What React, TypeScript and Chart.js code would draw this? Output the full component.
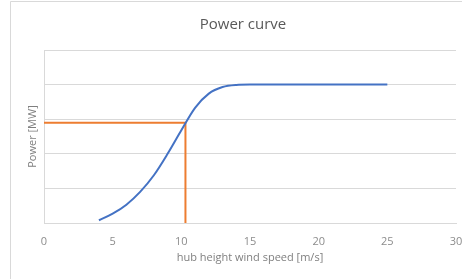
import React, { useEffect, useRef } from "react";
import { Chart, registerables } from "chart.js";

Chart.register(...registerables);

const windSpeeds = [4, 5, 6, 7, 8, 9, 10, 11, 12, 13, 14, 15, 16, 17, 18, 19, 20, 21, 22, 23, 24, 25];
const powerMW = [0.08, 0.27, 0.53, 0.9, 1.38, 2.0, 2.68, 3.33, 3.74, 3.93, 3.99, 4.0, 4.0, 4.0, 4.0, 4.0, 4.0, 4.0, 4.0, 4.0, 4.0, 4.0];
const markerX = [0, 10.3, 10.3];
const markerY = [2.9, 2.9, 0];
const xTicks = [0, 5, 10, 15, 20, 25, 30];
const chartTitle = "Power curve";

const FONT = "'Open Sans', sans-serif";

const framePlugin = {
  id: "frame",
  beforeDraw(chart: any) {
    const ctx = chart.ctx;
    ctx.save();
    ctx.fillStyle = "#ffffff";
    ctx.fillRect(0, 0, chart.width, chart.height);
    ctx.strokeStyle = "#d9d9d9";
    ctx.lineWidth = 1;
    ctx.beginPath();
    ctx.moveTo(10.5, chart.height);
    ctx.lineTo(10.5, 1.5);
    ctx.lineTo(chart.width, 1.5);
    ctx.stroke();
    ctx.fillStyle = "#595959";
    ctx.font = "15px " + FONT;
    ctx.textAlign = "center";
    ctx.textBaseline = "middle";
    ctx.fillText(chartTitle, 243, 25);
    ctx.restore();
  },
};

export default function App() {
  const ref = useRef<HTMLCanvasElement>(null);
  useEffect(() => {
    document.body.style.margin = "0";
    const chart = new Chart(ref.current as HTMLCanvasElement, {
      type: "line",
      data: {
        datasets: [
          {
            label: "Power curve",
            data: windSpeeds.map((x, i) => ({ x, y: powerMW[i] })),
            borderColor: "#4472c4",
            borderWidth: 2,
            pointRadius: 0,
            cubicInterpolationMode: "monotone",
          },
          {
            label: "Operating point",
            data: markerX.map((x, i) => ({ x, y: markerY[i] })),
            borderColor: "#ed7d31",
            borderWidth: 2,
            pointRadius: 0,
            tension: 0,
          },
        ],
      },
      options: {
        animation: false,
        responsive: false,
        layout: { padding: { left: 0, right: 0, top: 50, bottom: 0 } },
        plugins: {
          legend: { display: false },
          tooltip: { enabled: false },
          title: { display: false },
        },
        scales: {
          x: {
            type: "linear",
            min: 0,
            max: 30,
            afterBuildTicks: (s: any) => {
              s.ticks = xTicks.map((v) => ({ value: v }));
            },
            afterFit: (s: any) => {
              s.height = 56;
              s.paddingRight = 6;
              s.paddingLeft = 0;
            },
            grid: { display: false },
            border: { display: true, color: "#d9d9d9" },
            ticks: {
              color: "#8c8c8c",
              font: { family: FONT, size: 11 },
              padding: 4,
              maxRotation: 0,
            },
            title: {
              display: true,
              text: "hub height wind speed [m/s]",
              color: "#7f7f7f",
              font: { family: FONT, size: 11 },
              padding: { top: 0, bottom: 14.4 },
            },
          },
          y: {
            min: 0,
            max: 5,
            ticks: { display: false, stepSize: 1 },
            afterFit: (s: any) => {
              s.width = 44;
              s.paddingTop = 0;
            },
            grid: { color: "#d9d9d9", drawTicks: false },
            border: { display: true, color: "#d9d9d9" },
            title: {
              display: true,
              text: "Power [MW]",
              color: "#7f7f7f",
              font: { family: FONT, size: 11 },
              padding: { top: 26.4, bottom: 0 },
            },
          },
        },
      },
      plugins: [framePlugin],
    });
    return () => chart.destroy();
  }, []);
  return <canvas ref={ref} width={462} height={279} style={{ display: "block" }} />;
}
